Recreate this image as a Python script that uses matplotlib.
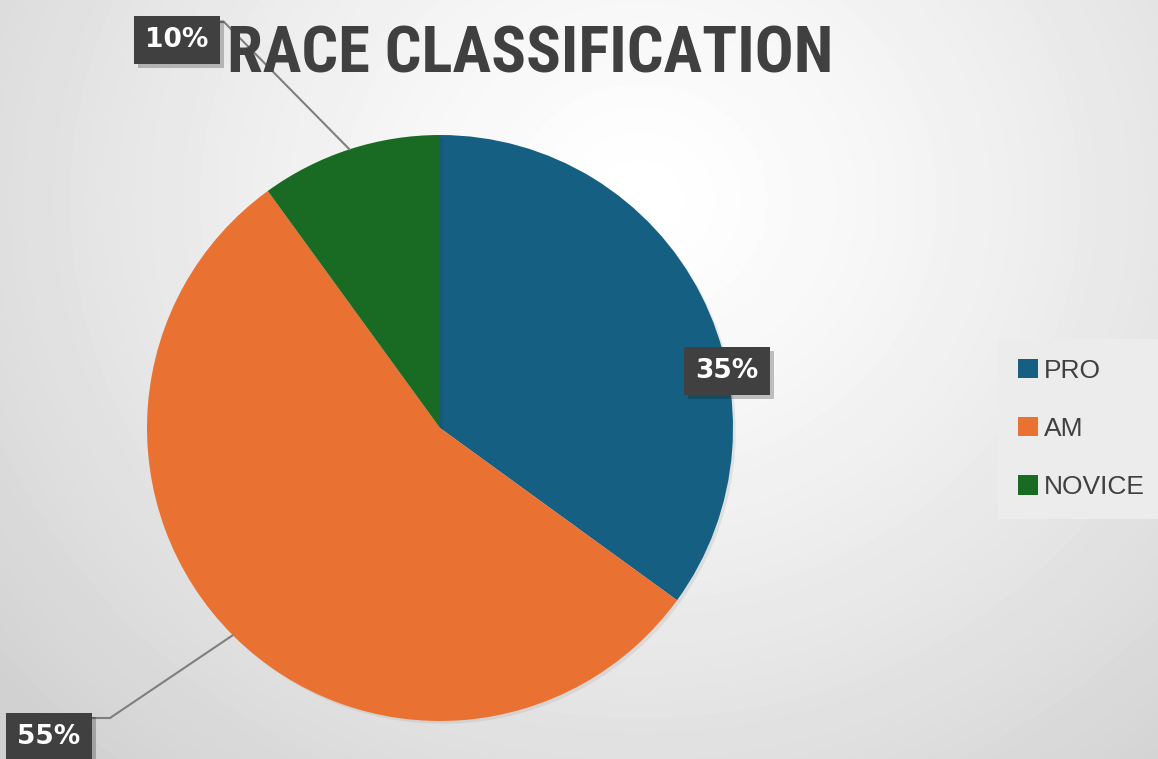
import numpy as np
import matplotlib
matplotlib.use("Agg")
from matplotlib import pyplot as plt
from matplotlib import font_manager
import matplotlib.patheffects as pe

categorias = ["PRO", "AM", "NOVICE"]
valores = [35, 55, 10]
colores = ["#156082", "#E97132", "#196B24"]
titulo = "RACE CLASSIFICATION"

# fuente angosta para el titulo si existe
nombres_fuentes = {f.name for f in font_manager.fontManager.ttflist}
fuente_titulo = "DejaVu Sans"
for f in ["Liberation Sans Narrow", "DejaVu Sans Condensed", "Roboto Condensed", "Open Sans Condensed", "Roboto"]:
    if f in nombres_fuentes:
        fuente_titulo = f
        break

W, H = 1158, 759
fig = plt.figure(figsize=(W / 100, H / 100), dpi=100)

# fondo con degradado radial
fondo = fig.add_axes([0, 0, 1, 1], zorder=-10)
yy, xx = np.mgrid[0:H, 0:W]
d = np.sqrt((xx - 640) ** 2 + ((yy - 200) * 1.1) ** 2)
gris = 1 - 0.17 * (d / 800) ** 1.3
fondo.imshow(gris, cmap="gray", vmin=0, vmax=1, aspect="auto", interpolation="bilinear")
fondo.axis("off")

# pastel
cx, cy, r = 440, H - 428, 293
ax = fig.add_axes([(cx - r) / W, (cy - r) / H, 2 * r / W, 2 * r / H])
cunas, _ = ax.pie(valores, colors=colores, startangle=90, counterclock=False,
                  wedgeprops=dict(linewidth=0))
ax.set_xlim(-1, 1)
ax.set_ylim(-1, 1)
ax.set_aspect("equal")
ax.axis("off")

leg = fig.legend(cunas, categorias, loc="center left", bbox_to_anchor=(998 / W, (H - 429) / H),
                 frameon=True, prop=dict(family="Liberation Sans", size=19),
                 handlelength=0.75, handleheight=0.75,
                 handletextpad=0.25, labelspacing=1.3, borderpad=0.75, borderaxespad=0,
                 fancybox=False)
leg.get_frame().set_facecolor("#ececec")
leg.get_frame().set_edgecolor("none")
leg.get_frame().set_alpha(1)
for tx in leg.get_texts():
    tx.set_color("#404040")

for c in cunas:
    c.set_path_effects([pe.SimplePatchShadow(offset=(2, -2), alpha=0.08), pe.Normal()])

fig.text(530 / W, 1 - 55 / H, titulo, ha="center", va="center", fontsize=46.5,
         fontweight="bold", color="#404040", family=fuente_titulo)

# etiquetas de datos (posicion en pixeles de la figura)
pos_etiquetas = [(727, H - 371), (49, H - 737), (177, H - 40)]
codos = [None, (110, H - 718), (224, H - 22)]
bordes = [None, 92, 217]

for cuna, v, p, codo, borde in zip(cunas, valores, pos_etiquetas, codos, bordes):
    ang = np.deg2rad((cuna.theta1 + cuna.theta2) / 2)
    if codo is not None:
        ax.annotate("", xy=(np.cos(ang), np.sin(ang)), xycoords="data",
                    xytext=codo, textcoords="figure pixels",
                    arrowprops=dict(arrowstyle="-", color="#7f7f7f", lw=1.5,
                                    shrinkA=0, shrinkB=0))
        fig.add_artist(plt.Line2D([borde / W, codo[0] / W], [codo[1] / H, codo[1] / H],
                                  color="#7f7f7f", lw=1.5))
    t = fig.text(p[0] / W, p[1] / H, f"{v}%", ha="center", va="center", fontsize=19,
                 fontweight="bold", color="white",
                 bbox=dict(boxstyle="square,pad=0.42", fc="#404040", ec="none"))
    t.get_bbox_patch().set_path_effects([pe.SimplePatchShadow(offset=(3, -3), alpha=0.25), pe.Normal()])

fig.savefig("out.png", dpi=100)
